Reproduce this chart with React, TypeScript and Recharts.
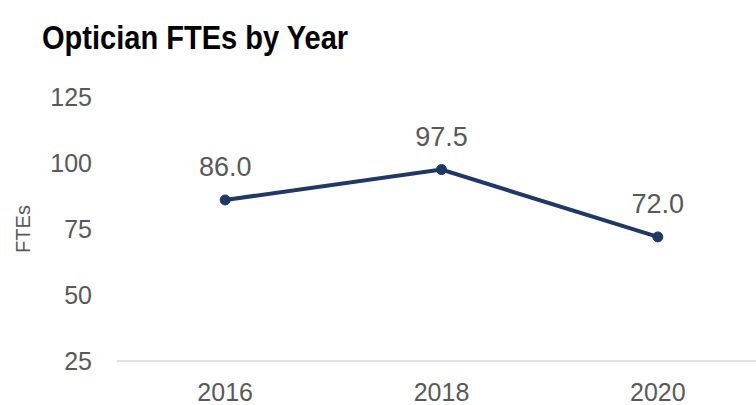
import { LineChart, Line, XAxis, YAxis, LabelList, Label } from 'recharts'

const years = ['2016', '2018', '2020']
const ftes = [86.0, 97.5, 72.0]
const yTicks = [25, 50, 75, 100, 125]

const chartData = years.map((year, i) => ({ year, ftes: ftes[i] }))

const NAVY = '#203864'
const GRAY = '#595959'
const FONT = '"Liberation Sans", Arial, sans-serif'

const ValueLabel = (props: { x?: number; y?: number; value?: number }) => {
  const { x = 0, y = 0, value = 0 } = props
  return (
    <text x={x} y={y - 24} textAnchor="middle" fill={GRAY} fontSize={27} fontFamily={FONT}>
      {Number(value).toFixed(1)}
    </text>
  )
}

const AxisTitle = (props: { viewBox?: { x: number; y: number; width: number; height: number } }) => {
  const vb = props.viewBox || { x: 0, y: 0, width: 0, height: 0 }
  const cx = 23
  const cy = vb.y + vb.height / 2
  return (
    <text
      x={cx}
      y={cy}
      transform={`rotate(-90, ${cx}, ${cy})`}
      textAnchor="middle"
      dominantBaseline="central"
      fill={GRAY}
      fontSize={20}
      fontFamily={FONT}
    >
      FTEs
    </text>
  )
}

export default function App() {
  return (
    <div style={{ position: 'absolute', left: 0, top: 0, width: 756, height: 405, overflow: 'hidden', background: '#fff' }}>
      <div
        style={{
          position: 'absolute',
          left: 42,
          top: 18,
          fontFamily: FONT,
          fontWeight: 700,
          fontSize: 33,
          lineHeight: '40px',
          color: '#000',
          whiteSpace: 'nowrap',
          transform: 'scaleX(0.88)',
          transformOrigin: 'left top',
        }}
      >
        Optician FTEs by Year
      </div>
      <LineChart width={780} height={405} data={chartData} margin={{ top: 97, right: 14, bottom: 0, left: 0 }}>
        <XAxis
          dataKey="year"
          scale="band"
          height={44}
          axisLine={{ stroke: '#d9d9d9', strokeWidth: 1.5 }}
          tickLine={false}
          tickSize={0}
          tickMargin={22}
          tick={{ fill: GRAY, fontSize: 25, fontFamily: FONT }}
        />
        <YAxis
          width={117}
          domain={[25, 125]}
          ticks={yTicks}
          axisLine={false}
          tickLine={false}
          tickSize={0}
          tickMargin={25}
          tick={{ fill: GRAY, fontSize: 25, fontFamily: FONT }}
        >
          <Label content={<AxisTitle />} />
        </YAxis>
        <Line
          dataKey="ftes"
          stroke={NAVY}
          strokeWidth={4}
          dot={{ r: 5, fill: NAVY, stroke: NAVY, strokeWidth: 1 }}
          isAnimationActive={false}
        >
          <LabelList dataKey="ftes" content={<ValueLabel />} />
        </Line>
      </LineChart>
    </div>
  )
}
